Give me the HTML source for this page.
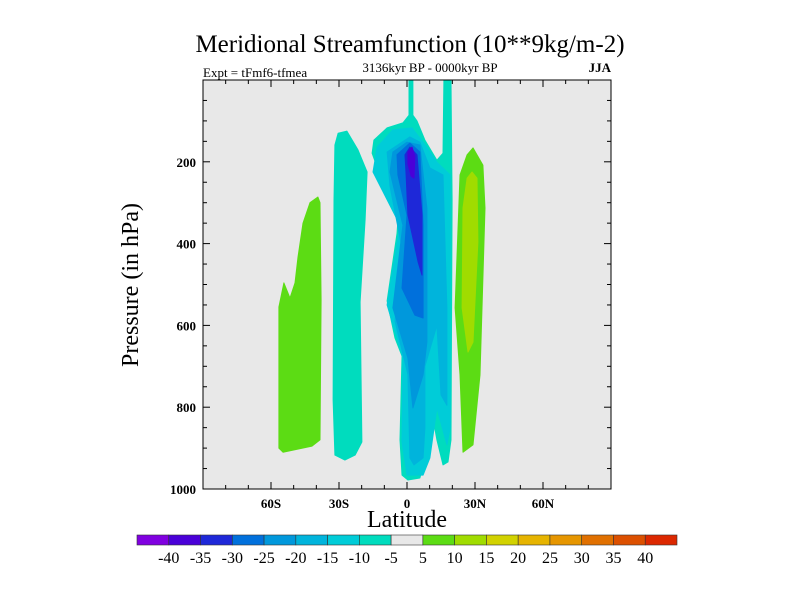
<!DOCTYPE html>
<html><head><meta charset="utf-8"><style>
body{margin:0;background:#fff;}
svg text{font-family:"Liberation Serif",serif;}
</style></head><body>
<svg id="chart" width="800" height="600" viewBox="0 0 800 600" xmlns="http://www.w3.org/2000/svg">
<text x="410" y="52" font-size="25" text-anchor="middle">Meridional Streamfunction (10**9kg/m-2)</text>
<text x="203" y="77" font-size="13">Expt = tFmf6-tfmea</text>
<text x="430" y="72" font-size="13" text-anchor="middle">3136kyr BP - 0000kyr BP</text>
<text x="611" y="72" font-size="13" text-anchor="end" font-weight="bold">JJA</text>
<rect x="203" y="80" width="408" height="409" fill="#e8e8e8"/>
<g id="contours"></g>
<g id="axes"></g>
<text x="407" y="527" font-size="24" text-anchor="middle">Latitude</text>
<text transform="translate(138,285) rotate(-90)" font-size="24" text-anchor="middle">Pressure (in hPa)</text>
<g id="colorbar"></g>
</svg>
<script>
const levels=[-45,-40,-35,-30,-25,-20,-15,-10,-5,5,10,15,20,25,30,35,40];
const levelColors=["#8000e0","#4a00d8","#1e28d8","#0070dc","#0098dc","#00b4dc","#00ccd8","#00dcbe","#e8e8e8","#5cdc14","#a0dc00","#d2d200","#e6b400","#e69600","#e07000","#dc5000","#dc2800"];
const cbLabels=[-40,-35,-30,-25,-20,-15,-10,-5,5,10,15,20,25,30,35,40];
const xTicks=[-60,-30,0,30,60];
const xTickLabels=["60S","30S","0","30N","60N"];
const yTicks=[200,400,600,800,1000];
// contour regions: [lat, pressure hPa] vertices, band index into levelColors
const regionLevels=[9,7,7,6,5,4,3,2,1,9,10];
const regionLeftGreen=[[-56.5,555],[-54.3,496],[-51.6,533],[-49.4,496],[-48.1,433],[-45.9,350],[-42.8,300],[-39.3,286],[-38.4,300],[-37.9,538],[-38.4,880],[-41.9,895],[-54.7,910],[-56.5,900]];
const regionLeftTeal=[[-30.4,130],[-26.5,125],[-21.6,171],[-17.6,225],[-18.5,342],[-20.7,543],[-19.9,885],[-22.9,917],[-27.4,929],[-31.8,917],[-32.6,782],[-32.2,293],[-31.8,159]];
const regionCenterTeal=[[0.9,0],[2.6,0],[2.6,86],[4.4,100],[7.9,147],[13.2,196],[15.9,179],[16.3,0],[19.4,0],[19.9,293],[19.4,880],[18.1,934],[15.9,941],[13.2,880],[11.0,812],[9.3,856],[7.9,929],[5.7,973],[0.4,978],[-2.2,966],[-3.1,880],[-2.2,675],[-5.3,631],[-8.8,540],[-4.4,375],[-3.9,335],[-7.5,269],[-13.2,213],[-15.4,179],[-14.6,147],[-8.8,117],[-1.8,105],[0.9,86]];
const regionM15=[[-13.2,164],[-6.2,122],[2.2,117],[7.1,152],[13.2,201],[19.0,232],[19.0,851],[17.6,892],[13.2,802],[10.1,924],[7.1,966],[0,966],[-2.2,885],[-1.8,680],[-8.8,550],[-3.1,355],[-15.0,225]];
const regionM20=[[-8.8,176],[1.3,139],[5.7,152],[10.1,215],[15.9,232],[17.6,557],[17.6,795],[15.0,770],[13.2,600],[7.9,700],[7.9,851],[7.1,924],[3.1,941],[1.3,924],[0.4,720],[-5.3,590],[-2.6,400],[-7.5,260]];
const regionM25=[[-6.2,176],[0,152],[5.7,159],[8.8,313],[8.8,641],[7.1,721],[2.6,802],[0.4,680],[-6.2,557],[-1.8,355],[-7.5,225]];
const regionM30=[[-4.4,183],[1.3,154],[5.7,176],[7.1,355],[7.1,582],[3.5,575],[-2.2,509],[0,330],[-4.0,232]];
const regionM35=[[-0.9,183],[1.3,164],[4.4,183],[6.6,330],[6.6,477],[4.9,445],[0.4,330],[-0.4,232]];
const regionM40=[[0.4,176],[2.2,164],[3.5,186],[3.1,240],[1.8,235],[0.4,205]];
const regionRightGreen=[[26.5,183],[29.1,166],[33.5,208],[34.4,313],[32.2,721],[29.1,892],[24.7,910],[23.4,721],[21.2,557],[23.4,232]];
const regionRightYellow=[[28.7,225],[30.9,240],[31.3,396],[29.1,641],[26.9,665],[24.3,557],[24.7,313],[26.5,240]];
const regions=[regionLeftGreen,regionLeftTeal,regionCenterTeal,regionM15,regionM20,regionM25,regionM30,regionM35,regionM40,regionRightGreen,regionRightYellow];
const NS="http://www.w3.org/2000/svg";
const X0=203,X1=611,Y0=80,Y1=489;
function xScale(lat){return X0+(lat+90)/180*(X1-X0);}
function yScale(p){return Y0+p/1000*(Y1-Y0);}
const cg=document.getElementById('contours');
regions.forEach((reg,i)=>{
 const el=document.createElementNS(NS,'polygon');
 el.setAttribute('points',reg.map(v=>xScale(v[0]).toFixed(1)+','+yScale(v[1]).toFixed(1)).join(' '));
 el.setAttribute('fill',levelColors[regionLevels[i]]);
 el.setAttribute('stroke',levelColors[regionLevels[i]]);
 el.setAttribute('stroke-width','1');
 el.setAttribute('stroke-linejoin','round');
 
 
 cg.appendChild(el);
});
const ax=document.getElementById('axes');
function line(x1,y1,x2,y2,name){const l=document.createElementNS(NS,'line');l.setAttribute('x1',x1);l.setAttribute('y1',y1);l.setAttribute('x2',x2);l.setAttribute('y2',y2);l.setAttribute('stroke','#000');l.setAttribute('stroke-width','1');
 
 
 ax.appendChild(l);}
function txt(x,y,s,anchor,name){const t=document.createElementNS(NS,'text');t.setAttribute('x',x);t.setAttribute('y',y);t.setAttribute('font-size','13');t.setAttribute('font-weight','bold');t.setAttribute('text-anchor',anchor);t.textContent=s;
 
 
 ax.appendChild(t);}
const fr=document.createElementNS(NS,'rect');fr.setAttribute('x',X0);fr.setAttribute('y',Y0);fr.setAttribute('width',X1-X0);fr.setAttribute('height',Y1-Y0);fr.setAttribute('fill','none');fr.setAttribute('stroke','#000');


ax.appendChild(fr);
for(let lat=-80;lat<=80;lat+=10){const x=xScale(lat);const maj=lat%30===0;const L=maj?7:4;line(x,Y1,x,Y1-L,'x-tick');line(x,Y0,x,Y0+L,'x-tick-top');}
xTicks.forEach((v,i)=>txt(xScale(v),508,xTickLabels[i],'middle','x-tick-label'));
for(let p=50;p<1000;p+=50){const y=yScale(p);const maj=p%200===0;const L=maj?7:4;line(X0,y,X0+L,y,'y-tick');line(X1,y,X1-L,y,'y-tick-right');}
yTicks.forEach(v=>txt(196,yScale(v)+5,String(v),'end','y-tick-label'));
const cb=document.getElementById('colorbar');
const cbX=137,cbW=540,cbY=535,cbH=10,bw=cbW/levelColors.length;
levelColors.forEach((c,i)=>{const r=document.createElementNS(NS,'rect');r.setAttribute('x',cbX+i*bw);r.setAttribute('y',cbY);r.setAttribute('width',bw);r.setAttribute('height',cbH);r.setAttribute('fill',c);r.setAttribute('stroke','#333');r.setAttribute('stroke-width','0.6');
 
 
 cb.appendChild(r);});
cbLabels.forEach((v,i)=>{const t=document.createElementNS(NS,'text');t.setAttribute('x',cbX+(i+1)*bw);t.setAttribute('y',563);t.setAttribute('font-size','16');t.setAttribute('text-anchor','middle');t.textContent=String(v);
 
 
 cb.appendChild(t);});
</script>
</body></html>
